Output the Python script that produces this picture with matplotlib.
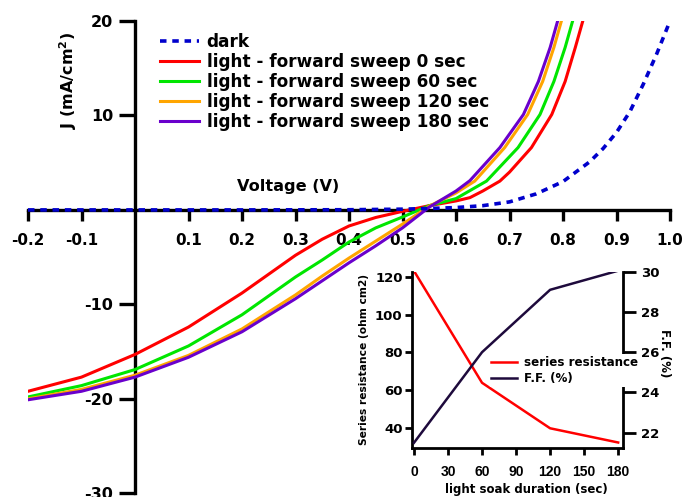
import numpy as np
import matplotlib
matplotlib.use('Agg')
import matplotlib.pyplot as plt

plt.rcParams['font.family'] = ['DejaVu Sans']
plt.rcParams['font.weight'] = 'bold'
plt.rcParams['mathtext.fontset'] = 'dejavusans'
plt.rcParams['axes.unicode_minus'] = False

# J-V curves, values
v_dark = [-0.2, 0.0, 0.2, 0.4, 0.5, 0.55, 0.6, 0.65, 0.7, 0.75, 0.8, 0.85, 0.875, 0.9, 0.925, 0.95, 0.975, 1.0]
j_dark = [0.0, 0.0, 0.0, 0.02, 0.08, 0.15, 0.25, 0.45, 0.85, 1.7, 3.0, 5.1, 6.5, 8.2, 10.4, 13.3, 16.5, 20.0]

v_0 = [-0.2, -0.1, 0.0, 0.1, 0.2, 0.3, 0.35, 0.4, 0.45, 0.5, 0.55, 0.6, 0.626, 0.65, 0.682, 0.7, 0.741, 0.779, 0.804, 0.823, 0.837]
j_0 = [-19.2, -17.7, -15.3, -12.4, -8.8, -4.8, -3.1, -1.7, -0.8, -0.15, 0.45, 0.95, 1.3, 2.0, 3.05, 4.0, 6.6, 10.1, 13.6, 17.2, 20.0]

v_60 = [-0.2, -0.1, 0.0, 0.1, 0.2, 0.3, 0.35, 0.4, 0.45, 0.5, 0.55, 0.6, 0.657, 0.716, 0.757, 0.783, 0.804, 0.818]
j_60 = [-19.8, -18.6, -16.9, -14.4, -11.1, -7.1, -5.3, -3.4, -1.9, -0.75, 0.45, 1.2, 3.05, 6.6, 10.1, 13.6, 17.2, 20.0]

v_120 = [-0.2, -0.1, 0.0, 0.1, 0.2, 0.3, 0.35, 0.4, 0.45, 0.5, 0.55, 0.6, 0.635, 0.691, 0.734, 0.762, 0.783, 0.797]
j_120 = [-20.0, -19.0, -17.5, -15.4, -12.6, -9.0, -7.0, -5.1, -3.3, -1.5, 0.4, 1.8, 3.05, 6.6, 10.1, 13.6, 17.2, 20.0]

v_180 = [-0.2, -0.1, 0.0, 0.1, 0.2, 0.3, 0.35, 0.4, 0.45, 0.5, 0.55, 0.6, 0.626, 0.682, 0.726, 0.754, 0.776, 0.790]
j_180 = [-20.1, -19.2, -17.7, -15.6, -12.9, -9.4, -7.5, -5.6, -3.8, -1.9, 0.3, 2.0, 3.1, 6.6, 10.1, 13.6, 17.2, 20.0]

labels = ['dark', 'light - forward sweep 0 sec', 'light - forward sweep 60 sec',
          'light - forward sweep 120 sec', 'light - forward sweep 180 sec']

# inset: light soak
soak = [0, 60, 120, 180]
rs = [123, 64, 40, 32.5]
ff = [21.5, 26.0, 29.1, 30.05]

xticks = [-0.2, -0.1, 0.1, 0.2, 0.3, 0.4, 0.5, 0.6, 0.7, 0.8, 0.9, 1.0]
yticks = [-30, -20, -10, 10, 20]

fig = plt.figure(figsize=(6.85, 4.97), dpi=100)
ax = fig.add_axes([28/685, 1-493.3/497, 642/685, 472.3/497])

lw = 2.2
ax.plot(v_dark, j_dark, color='#0000cc', lw=2.6, ls=(0, (1.8, 1.6)), label=labels[0], zorder=4)
ax.plot(v_0, j_0, color='#ff0000', lw=lw, label=labels[1], zorder=3)
ax.plot(v_60, j_60, color='#00e600', lw=lw, label=labels[2], zorder=3)
ax.plot(v_120, j_120, color='#ffa500', lw=lw, label=labels[3], zorder=3)
ax.plot(v_180, j_180, color='#6a00cc', lw=lw, label=labels[4], zorder=3)

ax.set_xlim(-0.2, 1.0)
ax.set_ylim(-30, 20)
ax.spines['left'].set_position(('data', 0))
ax.spines['bottom'].set_position(('data', 0))
ax.spines['top'].set_visible(False)
ax.spines['right'].set_visible(False)
for s in ['left', 'bottom']:
    ax.spines[s].set_linewidth(2.4)
ax.set_xticks(xticks)
ax.set_xticklabels(['%.1f' % t for t in xticks])
ax.set_yticks(yticks)
ax.tick_params(axis='x', direction='out', length=8, width=2.4, pad=8.5, labelsize=11)
ax.tick_params(axis='y', direction='out', length=11.5, width=2.4, pad=4, labelsize=11.5)
for t in ax.get_xticklabels() + ax.get_yticklabels():
    t.set_fontweight('bold')

fig.text(288/685, 1-187/497, 'Voltage (V)', ha='center', va='center', fontsize=11.6, fontweight='bold')
fig.text(68/685, 1-80/497, r'J (mA/cm$^\mathbf{2}$)', ha='center', va='center', rotation=90,
         fontsize=11.5, fontweight='bold')

leg = ax.legend(loc='upper left', bbox_to_anchor=(160/685, 1-33/497), bbox_transform=fig.transFigure,
                frameon=False, fontsize=12.2, handlelength=2.3, handletextpad=0.45,
                labelspacing=0.12, borderpad=0, borderaxespad=0)
for t in leg.get_texts():
    t.set_fontweight('bold')

# inset
ins = fig.add_axes([411.7/685, 1-448/497, 211/685, 176.3/497])
ins.patch.set_alpha(0)
l1, = ins.plot(soak, rs, color='#ff0000', lw=1.8, label='series resistance')
ins.set_xlim(-2, 184)
ins.set_ylim(29.6, 122.6)
ins.set_xticks([0, 30, 60, 90, 120, 150, 180])
ins.set_yticks([40, 60, 80, 100, 120])
ins.spines['top'].set_visible(False)
ins.spines['right'].set_visible(False)
for s in ['left', 'bottom']:
    ins.spines[s].set_linewidth(2)
ins.tick_params(axis='x', direction='out', length=5, width=2, pad=7, labelsize=10)
ins.tick_params(axis='y', direction='out', length=5, width=2, pad=1.5, labelsize=9.5)
for t in ins.get_xticklabels():
    t.set_family('Liberation Sans')
ins.set_xlabel('light soak duration (sec)', fontsize=8.5, fontweight='bold')
ins.xaxis.set_label_coords(0.544, -0.2)
ins.set_ylabel('Series resistance (ohm cm2)', fontsize=7.7, fontweight='bold', labelpad=4)

ins2 = ins.twinx()
l2, = ins2.plot(soak, ff, color='#1e0a3c', lw=1.8, label='F.F. (%)')
ins2.set_ylim(21.24, 30.0)
ins2.set_yticks([22, 24, 26, 28, 30])
ins2.spines['top'].set_visible(False)
ins2.spines['left'].set_visible(False)
ins2.spines['bottom'].set_visible(False)
ins2.spines['right'].set_linewidth(2)
ins2.tick_params(axis='y', direction='out', length=9, width=2, pad=4, labelsize=9.5)
for t in ins.get_xticklabels() + ins.get_yticklabels() + ins2.get_yticklabels():
    t.set_fontweight('bold')
fig.text(664/685, 1-353/497, 'F.F. (%)', ha='center', va='center', rotation=270,
         fontsize=8.5, fontweight='bold')

leg2 = ins2.legend(handles=[l1, l2], loc='upper left', bbox_to_anchor=(489/685, 1-354/497),
                   bbox_transform=fig.transFigure, frameon=True, fontsize=8.6,
                   handlelength=2.2, handletextpad=0.6, labelspacing=0.25,
                   borderpad=0.15, borderaxespad=0)
leg2.get_frame().set_edgecolor('none')
leg2.get_frame().set_facecolor('white')
leg2.get_frame().set_alpha(1)
for t in leg2.get_texts():
    t.set_fontweight('bold')

fig.savefig('out.png', dpi=100)
